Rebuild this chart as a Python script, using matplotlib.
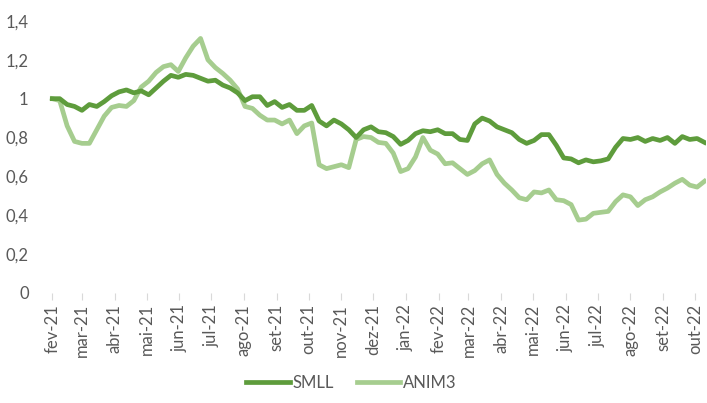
import matplotlib.pyplot as plt
import pandas as pd

# weekly readings, first week of fev-21 to early out-22
dates = pd.date_range("2021-02-01", periods=89, freq="7D")

smll = [1.0, 1.0, 0.97, 0.96, 0.94, 0.97, 0.96, 0.985, 1.015, 1.035,
        1.045, 1.03, 1.04, 1.02, 1.055, 1.09, 1.12, 1.11, 1.125, 1.12,
        1.105, 1.09, 1.095, 1.07, 1.055, 1.03, 0.99, 1.01, 1.01, 0.965,
        0.985, 0.955, 0.97, 0.94, 0.94, 0.965, 0.885, 0.86, 0.89, 0.87,
        0.84, 0.80, 0.84, 0.855, 0.83, 0.825, 0.805, 0.765, 0.785, 0.82,
        0.835, 0.83, 0.84, 0.82, 0.82, 0.79, 0.785, 0.87, 0.9, 0.885,
        0.855, 0.84, 0.825, 0.79, 0.77, 0.785, 0.815, 0.815, 0.76, 0.695,
        0.69, 0.67, 0.685, 0.675, 0.68, 0.69, 0.75, 0.795, 0.79, 0.8,
        0.78, 0.795, 0.785, 0.8, 0.77, 0.805, 0.79, 0.795, 0.775]

anim3 = [1.0, 0.99, 0.86, 0.78, 0.77, 0.77, 0.84, 0.91, 0.955, 0.965,
         0.96, 0.99, 1.06, 1.09, 1.135, 1.165, 1.175, 1.14, 1.21, 1.27,
         1.31, 1.2, 1.16, 1.13, 1.095, 1.05, 0.96, 0.95, 0.915, 0.89,
         0.89, 0.87, 0.89, 0.82, 0.86, 0.875, 0.66, 0.64, 0.65, 0.66,
         0.645, 0.79, 0.805, 0.8, 0.775, 0.77, 0.72, 0.625, 0.64, 0.7,
         0.8, 0.735, 0.715, 0.665, 0.67, 0.64, 0.61, 0.63, 0.665, 0.685,
         0.61, 0.565, 0.53, 0.49, 0.48, 0.52, 0.515, 0.53, 0.48, 0.475,
         0.455, 0.375, 0.38, 0.41, 0.415, 0.42, 0.47, 0.505, 0.495, 0.45,
         0.48, 0.495, 0.52, 0.54, 0.565, 0.585, 0.555, 0.545, 0.575]

month_names = ["jan", "fev", "mar", "abr", "mai", "jun",
               "jul", "ago", "set", "out", "nov", "dez"]
y_ticks = [0, 0.2, 0.4, 0.6, 0.8, 1.0, 1.2, 1.4]

plt.rcParams["font.family"] = ["Lato", "DejaVu Sans"]
text_color = "#595959"

fig = plt.figure(figsize=(7.07, 4.03), dpi=100)
ax = fig.add_axes([0.068, 0.273, 0.93, 0.675])

ax.plot(dates, smll, color="#5e9c3c", lw=3.4, label="SMLL", zorder=3)
ax.plot(dates, anim3, color="#a6cd8f", lw=3.4, label="ANIM3", zorder=2)

ax.set_ylim(0, 1.4)
ax.set_yticks(y_ticks)
ax.set_yticklabels([("%g" % v).replace(".", ",") for v in y_ticks])
ax.set_xlim(pd.Timestamp("2021-01-28"), pd.Timestamp("2022-10-11"))

month_starts = pd.date_range("2021-02-01", "2022-10-01", freq="MS")
ax.set_xticks(month_starts)
ax.set_xticklabels([f"{month_names[d.month - 1]}-{d.year % 100}" for d in month_starts],
                   rotation=90)

for s in ax.spines.values():
    s.set_visible(False)
ax.tick_params(axis="y", length=0, pad=14, labelsize=12, labelcolor=text_color)
ax.tick_params(axis="x", length=5, width=0.8, color="#d9d9d9", pad=3,
               labelsize=12, labelcolor=text_color)

fig.legend(loc="center", bbox_to_anchor=(0.497, 0.05), ncol=2, frameon=False,
           fontsize=12, handlelength=2.6, columnspacing=1.4, handletextpad=0.15,
           labelcolor=text_color)

fig.savefig("out.png", dpi=100)
